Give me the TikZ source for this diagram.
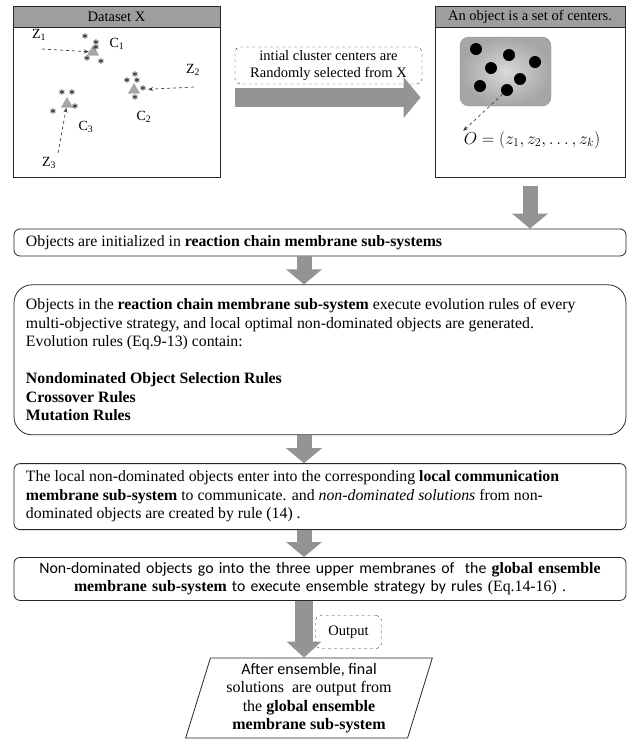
\documentclass[tikz,border=0pt]{standalone}
\usepackage{fontspec}
\setmainfont{Liberation Serif}
\newfontfamily\calibri{Carlito}
\usetikzlibrary{arrows.meta, positioning, shapes.geometric}

\begin{document}
\begin{tikzpicture}[
    x=1pt, y=1pt,
    font=\fontsize{14.5}{17}\selectfont,
    panel/.style={
        draw=black!85,
        line width=0.8pt,
        minimum height=171pt,
        inner sep=0pt
    },
    header/.style={
        draw=black!85,
        fill=black!38,
        line width=0.8pt,
        minimum height=21pt,
        inner sep=0pt
    },
    note/.style={
        draw=black!80,
        dashed,
        rounded corners=5pt,
        align=center,
        inner sep=3pt
    },
    flowbox/.style={
        draw=black!85,
        rounded corners=6pt,
        line width=0.8pt,
        text width=588pt,
        inner xsep=12pt,
        inner ysep=2pt,
        align=flush left,
        font=\fontsize{15.8}{18.5}\selectfont
    },
    fatarrow/.style={
        line width=15pt,
        draw=black!42,
        -{Triangle[width=35pt, length=15pt]}
    },
    dasharrow/.style={
        dashed,
        draw=black!75,
        line width=0.7pt,
        -{Stealth[length=5pt, width=4pt]}
    },
    pt/.style={
        font=\fontsize{13}{13}\selectfont\boldmath,
        inner sep=0pt
    },
    centre/.style={
        regular polygon,
        regular polygon sides=3,
        fill=black!35,
        minimum size=14pt,
        inner sep=0pt
    },
    dot/.style={
        circle,
        fill=black,
        minimum size=12pt,
        inner sep=0pt
    },
    lbl/.style={
        font=\fontsize{14}{14}\selectfont,
        inner sep=1pt
    }
]
\useasboundingbox (0,0) rectangle (633,-740);

% dataset panel
\node[panel, minimum width=207pt] (data) at (116.5,-91.5) {};
\node[header, anchor=north, minimum width=207pt] (datahead) at (data.north) {Dataset X};

\node[centre] (c1) at (93,-52) {};
\node[centre] (c2) at (134,-90) {};
\node[centre] (c3) at (67,-104) {};
\foreach \x/\y in {85/-37, 96/-43, 96/-48, 87/-59, 101/-62,
                   135/-75, 127/-81, 137/-81, 143/-89, 135/-98,
                   62/-93, 72/-93, 75/-107, 53/-112}
    \node[pt] at (\x,\y) {$\ast$};

\node[lbl] (z1) at (39,-35) {Z\textsubscript{1}};
\node[lbl] (z2) at (193,-70) {Z\textsubscript{2}};
\node[lbl] (z3) at (49,-163) {Z\textsubscript{3}};
\node[lbl] (c1lbl) at (117,-44) {C\textsubscript{1}};
\node[lbl] (c2lbl) at (144,-117) {C\textsubscript{2}};
\node[lbl] (c3lbl) at (86,-127) {C\textsubscript{3}};

\coordinate (z1tail) at (42,-49);
\coordinate (z2tail) at (194,-87);
\coordinate (z3tail) at (58,-153);
\draw[dasharrow] (z1tail) -- (c1);
\draw[dasharrow, shorten >=10pt] (z2tail) -- (c2);
\draw[dasharrow] (z3tail) -- (c3);

% object panel
\node[panel, minimum width=190pt] (obj) at (530,-91.5) {};
\node[header, anchor=north, minimum width=190pt] (objhead) at (obj.north) {An object is a set of centers.};

\node[draw=black!45, inner color=black!15, outer color=black!35, rounded corners=9pt,
      minimum width=91pt, minimum height=69pt] (cloud) at (505.5,-71.5) {};
\foreach \n/\x/\y in {1/476/-49, 2/509/-55, 3/491/-68, 4/535/-62, 5/520/-79, 6/480/-86, 7/507/-90}
    \node[dot] (d\n) at (\x,\y) {};

\node (form) at (532,-140) {\fontsize{18}{20}\selectfont $O=\left(z_{1},z_{2},\ldots,z_{k}\right)$};
\draw[dasharrow] (d7) -- ([xshift=3pt, yshift=-3pt]form.north west);

% from dataset to object
\node[note, minimum width=187pt, minimum height=37pt] (pick) at (328.5,-65.5)
    {intial cluster centers are\\ Randomly selected from X};
\draw[fatarrow, line width=19pt, -{Triangle[width=40pt, length=17pt]}, shorten <=15pt, shorten >=14pt]
    ([yshift=-6pt]data.east) -- ([yshift=-6pt]obj.west);

% flow
\node[flowbox, minimum height=27pt] (init) at (320,-242.5)
    {Objects are initialized in \textbf{reaction chain membrane sub-systems}};

\node[flowbox, rounded corners=18pt, minimum height=150pt, below=28pt of init] (evolve)
    {Objects in the \textbf{reaction chain membrane sub-system} execute evolution rules of every\\
     multi-objective strategy, and local optimal non-dominated objects are generated.\\
     Evolution rules (Eq.9-13) contain:\\[18.5pt]
     \textbf{Nondominated Object Selection Rules}\\
     \textbf{Crossover Rules}\\
     \textbf{Mutation Rules}};

\node[flowbox, minimum height=66pt, below=28pt of evolve] (comm)
    {The local non-dominated objects enter into the corresponding \textbf{local communication}\\
     \textbf{membrane sub-system} to communicate. and \textit{non-dominated solutions} from non-\\
     dominated objects are created by rule (14) .};

\node[flowbox, align=center, minimum height=43pt, below=27pt of comm] (ensemble)
    {\calibri Non-dominated objects go into the three upper membranes of~ the \textbf{\rmfamily global ensemble}\\
     \textbf{\rmfamily membrane sub-system} to execute ensemble strategy by rules {\rmfamily(Eq.14-16) .}};

\node[draw=black!85, line width=0.8pt, trapezium, trapezium left angle=74, trapezium right angle=106,
      trapezium stretches=true, minimum width=247pt, minimum height=80pt, align=center,
      inner sep=2pt, font=\fontsize{16}{18.5}\selectfont] (final) at (309,-698)
    {\calibri After ensemble, final\\
     solutions~ are output from\\
     \rmfamily the \textbf{global ensemble}\\
     \textbf{membrane sub-system}};

\node[note, minimum width=66pt, minimum height=33pt] (out) at (348.5,-632) {Output};

\draw[fatarrow, shorten <=9pt] (obj.south) -- (obj.south |- init.north);
\draw[fatarrow] ([xshift=-16pt]init.south) -- ([xshift=-16pt]evolve.north);
\draw[fatarrow] ([xshift=-16pt]evolve.south) -- ([xshift=-16pt]comm.north);
\draw[fatarrow] ([xshift=-16pt]comm.south) -- ([xshift=-16pt]ensemble.north);
\draw[fatarrow, line width=18pt, -{Triangle[width=34pt, length=16pt]}]
    ([xshift=-16pt]ensemble.south) -- ([xshift=-16pt]ensemble.south |- final.north);

\end{tikzpicture}
\end{document}
